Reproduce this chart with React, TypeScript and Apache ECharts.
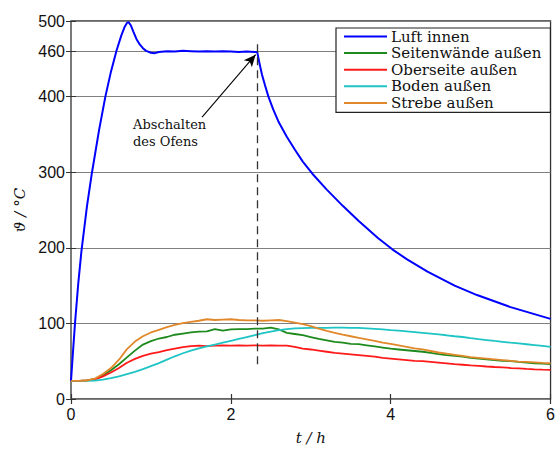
import React, { useEffect, useRef } from "react";
import * as echarts from "echarts";

// time grid (hours) for the surface temperature curves
const tLow = [
  0, 0.1, 0.2, 0.3, 0.4, 0.5, 0.6, 0.7, 0.8, 0.9,
  1.0, 1.1, 1.2, 1.3, 1.4, 1.5, 1.6, 1.7, 1.8, 1.9,
  2.0, 2.1, 2.2, 2.3, 2.4, 2.5, 2.6, 2.7, 2.8, 2.9,
  3.0, 3.1, 3.2, 3.3, 3.4, 3.5, 3.6, 3.7, 3.8, 3.9,
  4.0, 4.1, 4.2, 4.3, 4.4, 4.5, 4.6, 4.7, 4.8, 4.9,
  5.0, 5.1, 5.2, 5.3, 5.4, 5.5, 5.6, 5.7, 5.8, 5.9, 6.0,
];

const seitenwaende = [
  24, 24, 24.5, 26.5, 31, 38, 46, 55, 64, 72,
  76.5, 80, 82, 85, 86.5, 88, 89, 89.5, 92.5, 90.5,
  92, 92.5, 92.5, 93, 93, 94.5, 92, 87.5, 86, 84.5,
  82, 79.5, 77.5, 75.5, 74.5, 73, 72.5, 71, 69.5, 68,
  66.5, 65.5, 64.5, 63.5, 62.5, 61, 59.5, 58, 57, 56,
  54.5, 53.5, 52.5, 51.5, 50.5, 50, 49, 48, 47.3, 46.7, 46,
];

const oberseite = [
  24, 24, 24.5, 26, 30, 35, 41, 48, 53, 57,
  60, 62, 64.5, 66.5, 68.5, 70, 70.5, 70, 70.5, 71,
  70.5, 71, 70.5, 71, 70.5, 71, 70.5, 70.5, 69, 66.5,
  65.5, 64, 62.5, 61, 60, 59, 58, 57, 56, 54.5,
  53.5, 52.5, 51.5, 50.5, 50, 49, 48, 47, 46, 45.3,
  44.5, 43.8, 43, 42.3, 41.7, 41, 40.4, 39.8, 39.3, 38.9, 38.6,
];

const boden = [
  24, 24, 24, 24.3, 25.5, 27.5, 30, 33, 36, 39.5,
  43.5, 47.5, 52, 56.5, 60.5, 64, 67, 69.5, 72, 74.5,
  77, 79.5, 82, 84.5, 87, 89, 91, 92.5, 93.3, 93.7,
  94, 94, 94.2, 94.3, 94.3, 94.2, 94, 93.5, 92.8, 92,
  91.2, 90.5, 89.5, 88.5, 87.5, 86.5, 85.5, 84.3, 83, 82,
  80.5, 79.2, 78, 76.8, 75.7, 74.5, 73.5, 72.4, 71.3, 70.2, 69,
];

const strebe = [
  24, 24, 24.5, 27, 33, 41, 52, 66, 76, 83,
  88, 91.5, 95, 98, 100.5, 102, 103.5, 105.5, 104.5, 105,
  105.5, 104.5, 104, 104, 103.5, 104, 104.5, 103, 101, 99,
  96.5, 93, 90, 87.5, 85, 83, 81, 79, 77, 74.5,
  73, 71, 69, 67, 65.5, 63.5, 61.5, 60, 58.5, 57,
  55.5, 54.5, 53.5, 52.5, 51.5, 50.5, 49.5, 49, 48.5, 47.8, 47.3,
];

// air temperature inside the oven
const tAir = [
  0, 0.02, 0.05, 0.09, 0.13, 0.2, 0.26, 0.35, 0.43, 0.5,
  0.57, 0.63, 0.67, 0.7, 0.72, 0.75, 0.78, 0.82, 0.86, 0.9,
  0.94, 1.0, 1.05, 1.1, 1.2, 1.3, 1.4, 1.5, 1.6, 1.7,
  1.8, 1.9, 2.0, 2.1, 2.2, 2.3, 2.33, 2.36, 2.39, 2.43,
  2.47, 2.53, 2.6, 2.7, 2.8, 2.9, 3.02, 3.2, 3.4, 3.6,
  3.84, 4.02, 4.2, 4.46, 4.8, 5.08, 5.5, 6.0,
];
const luftInnen = [
  24, 55, 100, 152, 195, 255, 298, 355, 400, 433,
  461, 481, 492, 497.5, 498.5, 494, 486, 476, 469, 464,
  460.5, 458, 457.5, 459, 460, 459.5, 460.5, 460, 459.5, 460,
  459.5, 460, 459.5, 459, 459.5, 459, 459, 443, 429, 414,
  400, 383, 366, 347, 330, 314, 298, 277, 255.5, 235.5,
  213, 198, 185, 168.5, 150, 137.5, 121.5, 106,
];

const yTicks = [0, 100, 200, 300, 400, 460, 500];
const switchOffTime = 2.33;

const seriesNames = [
  "Luft innen",
  "Seitenwände außen",
  "Oberseite außen",
  "Boden außen",
  "Strebe außen",
];
const seriesColors = ["#0000ff", "#1e8a1e", "#ff1a1a", "#1fc4c4", "#e0882a"];

const pairs = (t: number[], v: number[]) => t.map((x, i) => [x, v[i]]);

export default function App() {
  const ref = useRef<HTMLDivElement>(null);
  useEffect(() => {
    if (!ref.current) return;
    const chart = echarts.init(ref.current, null, { renderer: "svg" });
    const tickFont = { fontFamily: "Liberation Sans", fontSize: 16, color: "#111" };
    const seriesData = [
      pairs(tAir, luftInnen),
      pairs(tLow, seitenwaende),
      pairs(tLow, oberseite),
      pairs(tLow, boden),
      pairs(tLow, strebe),
    ];
    const series: any[] = seriesData.map((d, i) => ({
      name: seriesNames[i],
      type: "line",
      data: d,
      xAxisIndex: 0,
      yAxisIndex: 0,
      symbol: "none",
      smooth: false,
      lineStyle: { color: seriesColors[i], width: i === 0 ? 2 : 1.8 },
      itemStyle: { color: seriesColors[i] },
      emphasis: { disabled: true },
    }));
    series[0].markLine = {
      silent: true,
      animation: false,
      label: { show: false },
      emphasis: { disabled: true },
      data: [
        [
          { coord: [switchOffTime, 46], symbol: "none", lineStyle: { color: "#333", width: 1.3, type: [8, 5] } },
          { coord: [switchOffTime, 472], symbol: "none" },
        ],
        [
          { coord: [1.64, 372.8], symbol: "none", lineStyle: { color: "#000", width: 1.1, type: "solid" } },
          { coord: [2.31, 455.5], symbol: "arrow", symbolSize: [8, 12] },
        ],
      ],
    };
    chart.setOption({
      animation: false,
      grid: {
        left: 71,
        right: 4,
        top: 21,
        bottom: 46.5,
        show: true,
        borderColor: "#333",
        borderWidth: 1.3,
      },
      legend: {
        orient: "vertical",
        left: 336,
        top: 28,
        padding: [1, 9, 2, 8],
        itemGap: 1.6,
        itemWidth: 43,
        itemHeight: 2,
        icon: "rect",
        backgroundColor: "#fff",
        borderColor: "#222",
        borderWidth: 1.2,
        borderRadius: 0,
        selectedMode: false,
        textStyle: { fontFamily: "DejaVu Serif", fontSize: 15, color: "#111", lineHeight: 14, padding: [0, 0, 0, -1] },
        data: seriesNames,
      },
      xAxis: [
        {
          type: "value",
          min: 0,
          max: 6,
          interval: 2,
          position: "bottom",
          axisLine: { show: false },
          axisTick: { show: true, inside: true, length: 5, lineStyle: { color: "#333", width: 1.2 } },
          axisLabel: { ...tickFont, margin: 7 },
          splitLine: { show: false },
          name: "t / h",
          nameLocation: "middle",
          nameGap: 31,
          nameTextStyle: { fontFamily: "DejaVu Serif", fontStyle: "italic", fontSize: 15, color: "#111" },
        },
        {
          type: "value",
          min: 0,
          max: 6,
          interval: 2,
          position: "top",
          axisLine: { show: false },
          axisTick: { show: true, inside: true, length: 5, lineStyle: { color: "#333", width: 1.2 } },
          axisLabel: { show: false },
          splitLine: { show: false },
        },
      ],
      yAxis: [
        {
          type: "value",
          min: 0,
          max: 500,
          interval: 100,
          position: "left",
          axisLine: { show: false },
          axisTick: { show: true, inside: true, length: 5, customValues: yTicks, lineStyle: { color: "#333" } },
          axisLabel: { ...tickFont, margin: 6, customValues: yTicks },
          splitLine: { show: true, lineStyle: { color: "#808080", width: 1.2 } },
          name: "ϑ / °C",
          nameLocation: "middle",
          nameGap: 42,
          nameTextStyle: { fontFamily: "DejaVu Serif", fontStyle: "italic", fontSize: 15, color: "#111" },
        },
        {
          type: "value",
          min: 0,
          max: 500,
          interval: 100,
          position: "right",
          axisLine: { show: false },
          axisTick: { show: true, inside: true, length: 5, customValues: yTicks, lineStyle: { color: "#333" } },
          axisLabel: { show: false },
          splitLine: { show: false },
        },
      ],
      graphic: [
        {
          type: "text",
          left: 133,
          top: 116,
          silent: true,
          style: {
            text: "Abschalten\ndes Ofens",
            fontFamily: "DejaVu Serif",
            fontSize: 13,
            lineHeight: 17,
            fill: "#111",
          },
        },
      ],
      series,
    });
    return () => chart.dispose();
  }, []);
  return (
    <div
      ref={ref}
      style={{ position: "absolute", left: 0, top: 0, width: 558, height: 450, background: "#fff" }}
    />
  );
}
